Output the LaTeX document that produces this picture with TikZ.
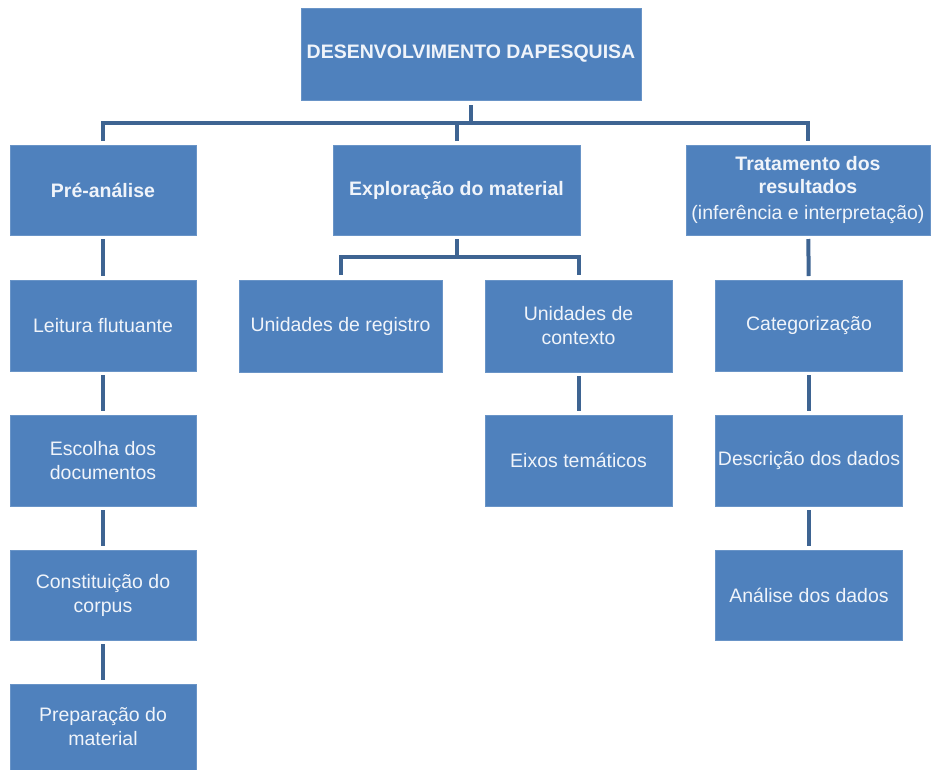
\documentclass[tikz,border=0pt]{standalone}
\usepackage{fontspec}
\setmainfont{Liberation Sans}
\definecolor{boxblue}{RGB}{79,129,189}
\definecolor{linkblue}{RGB}{62,100,146}
\definecolor{boxtext}{RGB}{240,244,250}
\begin{document}
\begin{tikzpicture}[x=1pt,y=-1pt,
  box/.style={fill=boxblue, draw=boxblue!85!white, line width=0.6pt, text=boxtext, align=center,
    inner sep=0pt, outer sep=0pt, font=\fontsize{19.5}{24}\selectfont},
  conn/.style={draw=linkblue, line width=4pt},
  chain/.style={conn, shorten >=4pt, shorten <=4pt}]
\useasboundingbox (0,0) rectangle (931,769);

\node[box, minimum width=340pt, minimum height=92pt, font=\fontsize{19.5}{24}\selectfont\bfseries] (top) at (471,54) {DESENVOLVIMENTO DAPESQUISA};

\node[box, minimum width=186pt, minimum height=90pt, font=\fontsize{19.5}{24}\selectfont\bfseries] (pre) at (103,190) {Pré-análise};
\node[box, minimum width=247pt, minimum height=90pt, font=\fontsize{19.5}{24}\selectfont\bfseries] (expl) at (456.5,190) {Exploração do material};
\node[box, minimum width=244pt, minimum height=90pt] (trat) at (808,190)
  {\bfseries Tratamento dos\\[-1pt]\bfseries resultados\\[2pt](inferência e interpretação)};

\node[box, minimum width=186pt, minimum height=91pt] (leit) at (103,325.5) {Leitura flutuante};
\node[box, minimum width=186pt, minimum height=91pt] (esc) at (103,460.5) {Escolha dos\\documentos};
\node[box, minimum width=186pt, minimum height=90pt] (const) at (103,595) {Constituição do\\corpus};
\node[box, minimum width=186pt, minimum height=86pt] (prep) at (103,727) {Preparação do\\material};

\node[box, minimum width=203pt, minimum height=92pt] (ureg) at (340.5,326) {Unidades de registro};
\node[box, minimum width=187pt, minimum height=92pt] (ucon) at (578.5,326) {Unidades de\\contexto};
\node[box, minimum width=187pt, minimum height=91pt] (eixos) at (578.5,460.5) {Eixos temáticos};

\node[box, minimum width=187pt, minimum height=91pt] (cat) at (809,325.5) {Categorização};
\node[box, minimum width=187pt, minimum height=91pt] (desc) at (809,460.5) {Descrição dos dados};
\node[box, minimum width=187pt, minimum height=90pt] (anal) at (809,595) {Análise dos dados};

% main bus
\coordinate (bus) at (0,123);
\draw[conn] ([yshift=-5pt]top.south) -- (top.south |- bus);
\draw[conn, line join=miter] ([yshift=4pt]pre.north) |- (trat.north |- bus) -- ([yshift=4pt]trat.north);
\draw[conn] ([yshift=4pt]expl.north) -- (expl.north |- bus);

% exploration bus
\coordinate (bus2) at (0,257);
\draw[conn] ([yshift=-4pt]expl.south) -- (expl.south |- bus2);
\draw[conn, line join=miter] ([yshift=5pt]ureg.north) |- (ucon.north |- bus2) -- ([yshift=5pt]ucon.north);

% chains
\draw[chain] (pre) -- (leit);
\draw[chain] (leit) -- (esc);
\draw[chain] (esc) -- (const);
\draw[chain] (const) -- (prep);
\draw[chain] (ucon) -- (eixos);
\draw[chain] (trat) -- (cat);
\draw[chain] (cat) -- (desc);
\draw[chain] (desc) -- (anal);
\end{tikzpicture}
\end{document}
